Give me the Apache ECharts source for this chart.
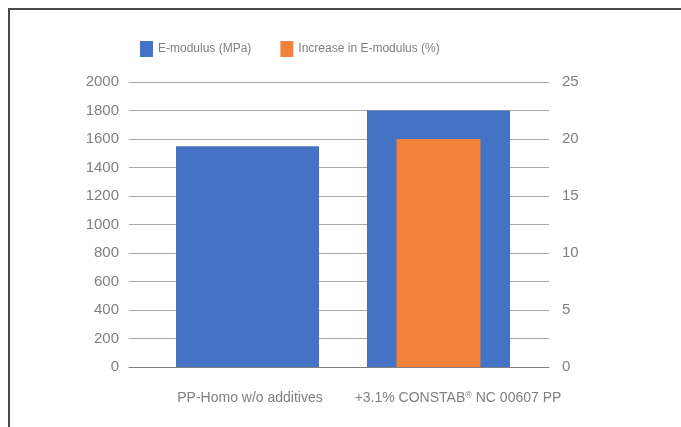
<!DOCTYPE html>
<html>
<head>
<meta charset="utf-8">
<style>
    html, body { margin: 0; padding: 0; background: #fff; }
    #main { width: 681px; height: 427px; }
</style>
<script src="https://cdn.jsdelivr.net/npm/echarts@6/dist/echarts.min.js"></script>
</head>
<body>
<div id="main"></div>
<script>
    // data
    var categories = ['PP-Homo w/o additives', '+3.1% CONSTAB® NC 00607 PP'];
    var modulus = [1550, 1800];
    var increase = ['-', 20];
    var seriesNames = ['E-modulus (MPa)', 'Increase in E-modulus (%)'];

    var textColor = '#808080';
    var fontName = 'Liberation Sans';

    var myChart = echarts.init(document.getElementById('main'));
    var option = {
        animation: false,
        graphic: [{
            // outer frame
            type: 'rect',
            shape: { x: 9, y: 9, width: 800, height: 600 },
            style: { fill: 'none', stroke: '#4a4a4a', lineWidth: 2 }
        }],
        legend: {
            left: 135,
            top: 36,
            itemWidth: 13,
            itemHeight: 16,
            itemGap: 29,
            icon: 'rect',
            textStyle: { color: textColor, fontSize: 12, fontFamily: fontName },
            data: seriesNames
        },
        grid: [
            { left: 129, right: 132, top: 82, bottom: 60 },   // axes + gridlines
            { left: 152, right: 147, top: 82, bottom: 60 }    // bars
        ],
        xAxis: [
            {
                gridIndex: 0,
                type: 'category',
                data: categories,
                axisLine: { lineStyle: { color: '#808080', width: 1 } },
                axisTick: { show: false },
                axisLabel: { show: false }
            },
            {
                gridIndex: 1,
                type: 'category',
                data: categories,
                axisLine: { show: false },
                axisTick: { show: false },
                axisLabel: {
                    interval: 0,
                    hideOverlap: false,
                    margin: 24,
                    color: textColor,
                    fontSize: 14,
                    fontFamily: fontName,
                    formatter: function (value, idx) {
                        var parts = value.split('®');
                        if (idx === 0) return '{a|' + value + '}';
                        return '{b|' + parts[0] + '}{sup|®}{c|' + parts[1] + '}';
                    },
                    rich: {
                        a: { color: textColor, fontSize: 14, fontFamily: fontName, padding: [0, 0, 0, 5] },
                        b: { color: textColor, fontSize: 14, fontFamily: fontName, padding: [0, 0, 0, 39] },
                        c: { color: textColor, fontSize: 14, fontFamily: fontName },
                        sup: { color: textColor, fontSize: 9, fontFamily: fontName, verticalAlign: 'top', padding: [0, 0, 6, 0] }
                    }
                }
            },
            {
                gridIndex: 1,
                type: 'category',
                position: 'top',
                data: categories,
                show: false
            }
        ],
        yAxis: [
            {
                gridIndex: 0,
                type: 'value',
                min: 0,
                max: 2000,
                interval: 200,
                axisLine: { show: false },
                axisTick: { show: false },
                axisLabel: {
                    margin: 10, color: textColor, fontSize: 15, fontFamily: fontName,
                    formatter: function (v) { return String(v); }
                },
                splitLine: { lineStyle: { color: '#a9a9a9', width: 1 } }
            },
            {
                gridIndex: 0,
                type: 'value',
                position: 'right',
                min: 0,
                max: 25,
                interval: 5,
                axisLine: { show: false },
                axisTick: { show: false },
                axisLabel: { margin: 13, color: textColor, fontSize: 15, fontFamily: fontName },
                splitLine: { show: false }
            },
            { gridIndex: 1, type: 'value', min: 0, max: 2000, show: false, splitLine: { show: false } },
            { gridIndex: 1, type: 'value', position: 'right', min: 0, max: 25, show: false, splitLine: { show: false } }
        ],
        series: [
            {
                name: seriesNames[0],
                type: 'bar',
                xAxisIndex: 1,
                yAxisIndex: 2,
                barWidth: 143,
                itemStyle: { color: '#4472c4' },
                data: modulus
            },
            {
                name: seriesNames[1],
                type: 'bar',
                xAxisIndex: 2,
                yAxisIndex: 3,
                barWidth: 84,
                itemStyle: { color: '#f0823b' },
                data: increase
            }
        ]
    };
    myChart.setOption(option);
</script>
</body>
</html>
